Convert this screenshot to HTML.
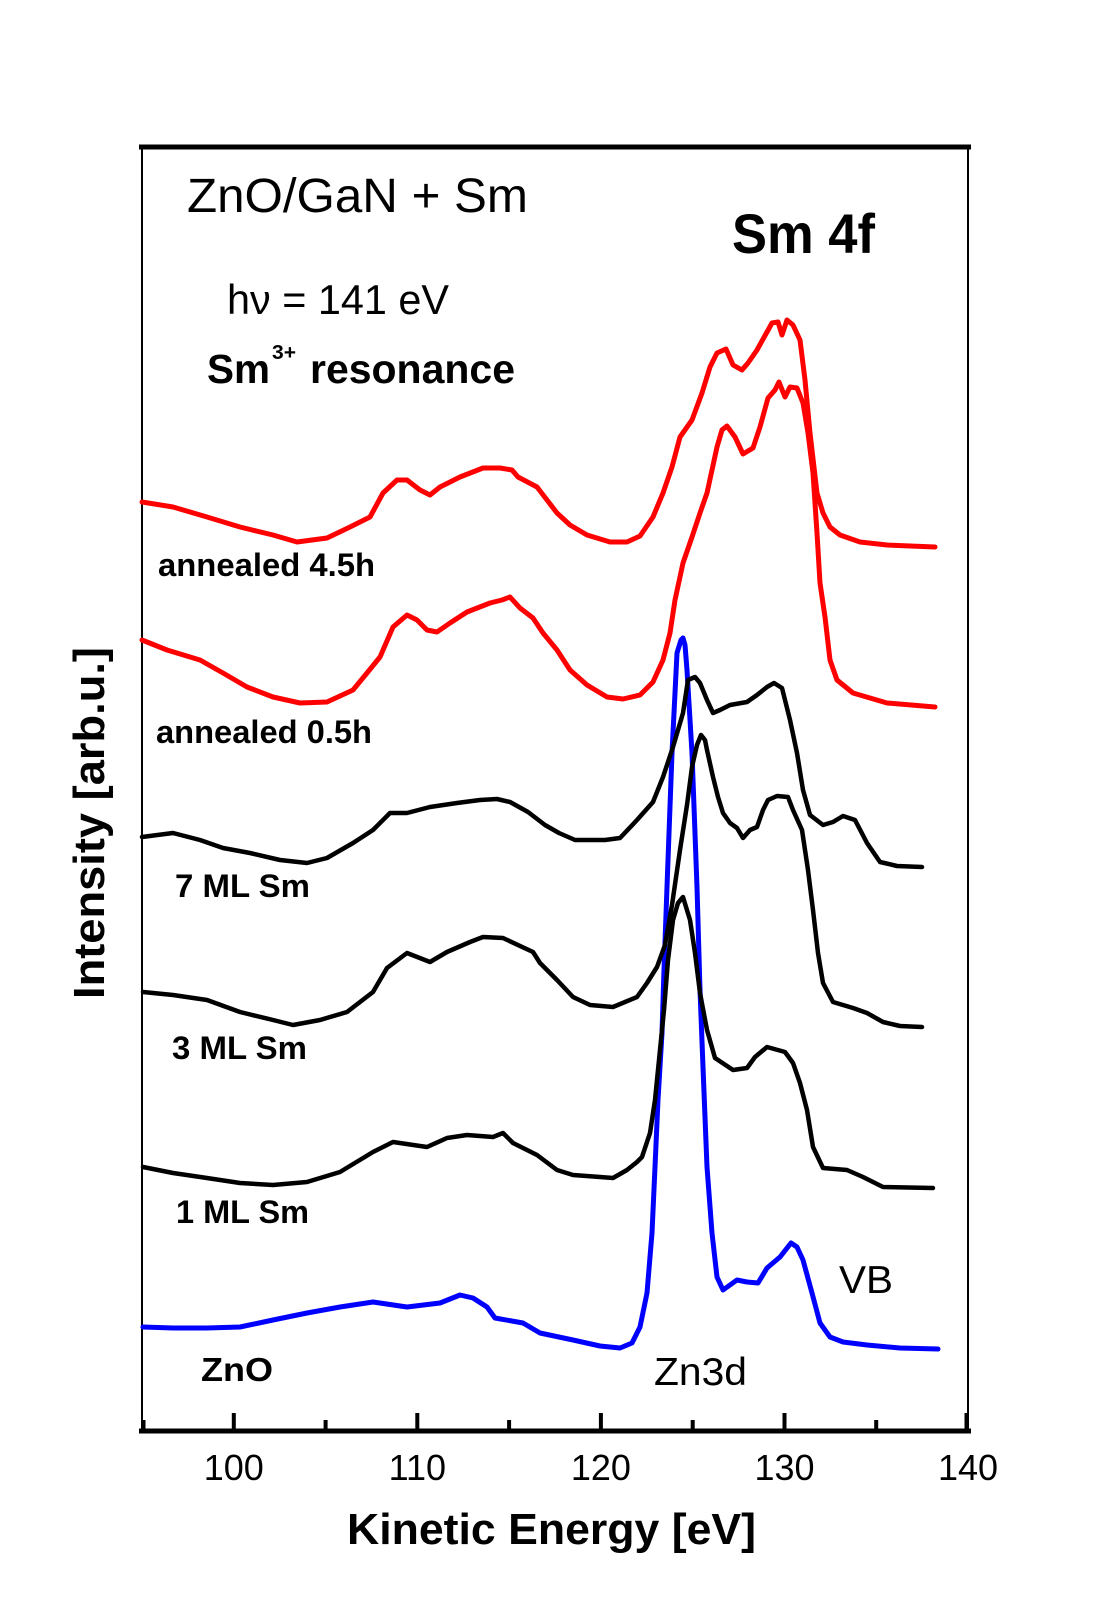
<!DOCTYPE html>
<html><head><meta charset="utf-8"><style>html,body{margin:0;padding:0;background:#fff}svg{display:block}</style></head>
<body>
<svg xmlns="http://www.w3.org/2000/svg" width="1108" height="1622" viewBox="0 0 1108 1622">
<rect width="1108" height="1622" fill="#fff"/>
<g font-family="'Liberation Sans', Arial, sans-serif" fill="#000">
<!-- frame -->
<line x1="142" y1="147" x2="142" y2="1431" stroke="#000" stroke-width="2"/>
<line x1="968" y1="147" x2="968" y2="1431" stroke="#000" stroke-width="2"/>
<line x1="139" y1="147" x2="971" y2="147" stroke="#000" stroke-width="5"/>
<line x1="139" y1="1431" x2="971" y2="1431" stroke="#000" stroke-width="5"/>
<!-- ticks -->
<g stroke="#000" stroke-width="4">
<line x1="233.8" y1="1413" x2="233.8" y2="1431"/>
<line x1="417.3" y1="1413" x2="417.3" y2="1431"/>
<line x1="600.9" y1="1413" x2="600.9" y2="1431"/>
<line x1="784.5" y1="1413" x2="784.5" y2="1431"/>
<line x1="966.5" y1="1413" x2="966.5" y2="1431"/>
<line x1="143.5" y1="1420" x2="143.5" y2="1431"/>
<line x1="325.6" y1="1420" x2="325.6" y2="1431"/>
<line x1="509.1" y1="1420" x2="509.1" y2="1431"/>
<line x1="692.7" y1="1420" x2="692.7" y2="1431"/>
<line x1="876.2" y1="1420" x2="876.2" y2="1431"/>
</g>
<g font-size="36" text-anchor="middle">
<text x="233.8" y="1480">100</text>
<text x="417.3" y="1480">110</text>
<text x="600.9" y="1480">120</text>
<text x="784.5" y="1480">130</text>
<text x="968" y="1480">140</text>
</g>
<text x="347" y="1544" font-size="44" font-weight="bold" textLength="409" lengthAdjust="spacingAndGlyphs">Kinetic Energy [eV]</text>
<text transform="translate(104,823) rotate(-90)" text-anchor="middle" font-size="44" font-weight="bold" textLength="352" lengthAdjust="spacingAndGlyphs">Intensity [arb.u.]</text>

<!-- header texts -->
<text x="187" y="212" font-size="48" textLength="341" lengthAdjust="spacingAndGlyphs">ZnO/GaN + Sm</text>
<text x="732" y="253" font-size="56" font-weight="bold" textLength="143" lengthAdjust="spacingAndGlyphs">Sm 4f</text>
<text x="227" y="314" font-size="42" textLength="222" lengthAdjust="spacingAndGlyphs">hν = 141 eV</text>
<text x="207" y="383" font-size="41" font-weight="bold" textLength="63" lengthAdjust="spacingAndGlyphs">Sm</text>
<text x="272" y="359" font-size="20" font-weight="bold" textLength="24" lengthAdjust="spacingAndGlyphs">3+</text>
<text x="310" y="383" font-size="41" font-weight="bold" textLength="205" lengthAdjust="spacingAndGlyphs">resonance</text>

<!-- curve labels -->
<g font-size="32" font-weight="bold">
<text x="158" y="576" textLength="217" lengthAdjust="spacingAndGlyphs">annealed 4.5h</text>
<text x="156" y="743" textLength="216" lengthAdjust="spacingAndGlyphs">annealed 0.5h</text>
<text x="175" y="897" textLength="135" lengthAdjust="spacingAndGlyphs">7 ML Sm</text>
<text x="172" y="1059" textLength="135" lengthAdjust="spacingAndGlyphs">3 ML Sm</text>
<text x="176" y="1223" textLength="133" lengthAdjust="spacingAndGlyphs">1 ML Sm</text>
<text x="201" y="1381" font-size="33" textLength="72" lengthAdjust="spacingAndGlyphs">ZnO</text>
</g>
<text x="654" y="1385" font-size="39" textLength="93" lengthAdjust="spacingAndGlyphs">Zn3d</text>
<text x="839" y="1293" font-size="39" textLength="54" lengthAdjust="spacingAndGlyphs">VB</text>
</g>

<!-- curves -->
<g fill="none" stroke-linejoin="round" stroke-linecap="round">
<polyline stroke="#0000ff" stroke-width="5" points="143,1327 173,1328 207,1328 240,1327 273,1320 307,1313 340,1307 373,1302 407,1307 440,1303 460,1295 473,1298 487,1307 495,1318 523,1323 540,1333 573,1340 600,1346 620,1348 632,1343 640,1327 647,1293 652,1233 655,1167 658,1100 662,1033 664,970 667,887 672,753 677,653 681,640 683,638 685,645 687,670 692,753 697,887 700,990 703,1067 707,1167 712,1233 717,1277 723,1290 737,1280 747,1282 758,1283 767,1268 780,1257 791,1243 797,1247 803,1260 812,1293 820,1323 830,1337 843,1342 867,1345 900,1348 938,1349"/>

<polyline stroke="#000" stroke-width="4.5" points="143,1167 173,1173 207,1178 240,1183 273,1185 307,1182 340,1172 373,1152 393,1142 427,1147 447,1138 467,1135 493,1137 503,1133 513,1143 537,1155 557,1170 573,1175 600,1177 613,1178 627,1170 637,1162 642,1157 650,1133 655,1100 660,1050 664,1010 668,960 673,920 678,903 683,897 690,920 695,953 700,993 707,1030 715,1058 733,1070 747,1068 755,1057 767,1047 785,1052 793,1063 800,1083 807,1110 813,1147 823,1168 847,1170 863,1177 883,1187 933,1188"/>

<polyline stroke="#000" stroke-width="4.5" points="143,992 173,995 207,1000 240,1012 273,1020 293,1025 320,1020 347,1012 373,992 387,968 407,953 430,962 447,952 470,942 483,937 503,938 533,952 540,963 557,980 573,997 590,1005 613,1007 637,997 647,983 657,967 665,945 672,905 680,850 687,805 692,767 697,745 701,735 705,740 707,750 713,777 718,797 723,813 730,823 737,828 743,838 750,830 757,827 763,810 768,800 777,796 788,797 793,810 802,830 808,870 813,910 818,953 823,983 833,1002 853,1008 867,1013 883,1022 900,1026 922,1027"/>

<polyline stroke="#000" stroke-width="4.5" points="142,837 173,833 200,840 223,848 250,853 280,860 307,863 327,858 353,843 373,830 390,813 407,813 430,807 457,803 480,800 497,799 510,802 528,812 545,825 559,833 575,840 590,840 605,840 620,838 637,820 653,802 663,777 673,747 683,713 688,680 695,677 700,683 707,700 713,713 720,710 730,705 747,702 757,695 767,687 774,683 782,688 785,700 790,720 797,753 803,790 810,815 823,825 833,822 843,816 855,820 867,843 880,862 897,866 922,867"/>

<polyline stroke="#ff0000" stroke-width="5" points="142,640 167,650 200,660 223,673 247,687 273,697 300,703 327,702 353,690 367,673 380,657 393,627 407,615 417,620 427,630 437,632 450,623 467,612 490,603 502,600 510,597 520,608 533,618 543,633 557,650 570,670 587,685 607,697 623,699 640,695 653,682 663,660 670,633 675,600 683,563 692,537 700,513 707,493 712,470 717,447 722,430 727,426 735,437 743,454 753,448 760,427 768,398 775,390 779,382 785,397 790,387 797,388 803,403 808,433 813,473 817,533 820,583 825,617 830,660 837,680 853,693 887,703 935,707"/>

<polyline stroke="#ff0000" stroke-width="5" points="142,502 173,507 207,517 240,527 273,535 297,542 327,538 350,527 370,517 383,493 397,480 407,480 420,490 430,495 440,487 460,477 483,468 500,468 512,470 518,477 537,487 547,500 557,513 570,525 587,535 610,542 627,542 640,536 653,517 663,493 672,467 680,437 692,420 702,393 710,367 717,353 726,349 733,365 742,370 748,363 757,350 767,332 772,323 778,322 782,335 787,320 793,325 800,340 805,380 810,433 817,493 823,513 830,527 840,535 860,542 887,545 935,547"/>
</g>
</svg>
</body></html>
